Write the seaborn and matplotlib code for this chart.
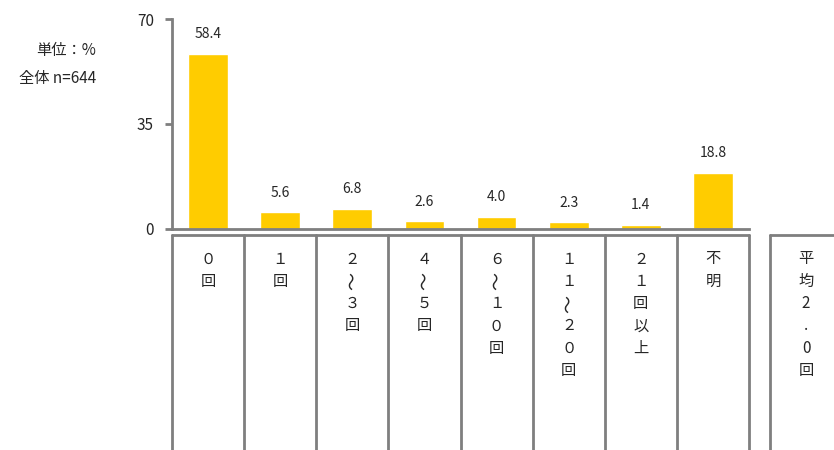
import matplotlib
matplotlib.use('Agg')
import matplotlib.pyplot as plt
import seaborn as sns
import pandas as pd

categories = ['０回', '１回', '２～３回', '４～５回', '６～１０回', '１１～２０回', '２１回以上', '不明']
values = [58.4, 5.6, 6.8, 2.6, 4.0, 2.3, 1.4, 18.8]
extra_label = ['平', '均', '2', '.', '0', '回']
y_ticks = [0, 35, 70]
unit_text = '単位：%'
n_text = '全体 n=644'

sns.set_style('white')
plt.rcParams['font.family'] = ['Noto Sans CJK JP', 'DejaVu Sans']

df = pd.DataFrame({'cat': categories, 'val': values})

fig = plt.figure(figsize=(8.34, 4.5), dpi=100)
ax = fig.add_axes([172 / 834, 1 - 229 / 450, (749 - 172) / 834, (229 - 19) / 450])
sns.barplot(data=df, x='cat', y='val', color='#FFCC00', width=0.55,
            saturation=1, ax=ax)
ax.set_xlim(-0.5, len(categories) - 0.5)
ax.set_ylim(0, 70)
ax.set_yticks(y_ticks)
ax.set_xticks([])
ax.set_xlabel('')
ax.set_ylabel('')
for s in ['top', 'right']:
    ax.spines[s].set_visible(False)
for s in ['left', 'bottom']:
    ax.spines[s].set_color('#7f7f7f')
    ax.spines[s].set_linewidth(2)
ax.tick_params(axis='y', left=True, length=5, width=2, color='#7f7f7f',
               labelsize=11, pad=8)

for i, v in enumerate(values):
    ax.annotate(f'{v:.1f}', (i, v), xytext=(0, 9), textcoords='offset points',
                ha='center', va='bottom', fontsize=10)

# table of labels under the chart
tab = fig.add_axes([172 / 834, 0, (749 - 172) / 834, 1 - 235 / 450])
tab.set_xlim(-0.5, len(categories) - 0.5)
tab.set_ylim(215, 0)
tab.axis('off')
lc = '#7f7f7f'
tab.plot([-0.5, len(categories) - 0.5], [0, 0], color=lc, lw=2, clip_on=False)
for i in range(len(categories) + 1):
    tab.plot([i - 0.5, i - 0.5], [0, 215], color=lc, lw=2, clip_on=False)


def vtext(xc, chars):
    for j, ch in enumerate(chars):
        if ch == '～':
            tab.text(xc, 24 + j * 22.3, ch, ha='center', va='center', fontsize=13,
                     rotation=90, clip_on=False)
        else:
            tab.text(xc, 24 + j * 22.3, ch, ha='center', va='center', fontsize=11,
                     clip_on=False)


for i, c in enumerate(categories):
    vtext(i, list(c))

x0 = len(categories) - 0.5 + 21 / 72
tab.plot([x0, x0], [215, 0], color=lc, lw=2, clip_on=False)
tab.plot([x0, x0 + 1], [0, 0], color=lc, lw=2, clip_on=False)
vtext(x0 + 0.5, extra_label)

fig.text(96 / 834, 1 - 50 / 450, unit_text, ha='right', va='center', fontsize=11)
fig.text(96 / 834, 1 - 79 / 450, n_text, ha='right', va='center', fontsize=11)

fig.savefig('out.png', dpi=100)
